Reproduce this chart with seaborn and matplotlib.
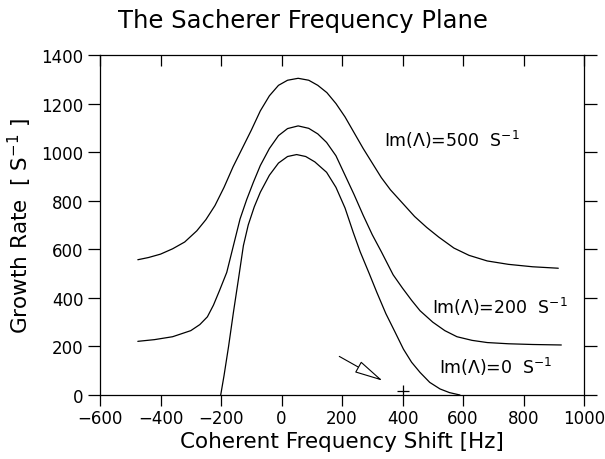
import numpy as np
import pandas as pd
import seaborn as sns
import matplotlib.pyplot as plt

# Curve readings (frequency shift [Hz], growth rate [1/s])
x_500 = [-475, -440, -400, -360, -320, -280, -250, -220, -190, -160, -130, -100, -70, -40, -10,
         20, 55, 90, 120, 150, 180, 210, 240, 270, 300, 330, 360, 400, 440, 480, 520, 570, 620,
         680, 750, 830, 915]
y_500 = [557, 566, 580, 602, 630, 676, 722, 780, 855, 940, 1015, 1090, 1170, 1232, 1275,
         1296, 1304, 1296, 1275, 1245, 1200, 1145, 1080, 1015, 955, 895, 845, 790, 735, 690, 650,
         605, 575, 552, 538, 528, 522]

x_200 = [-475, -420, -360, -300, -270, -245, -225, -205, -181, -160, -137, -115, -93, -70, -40, -10,
         20, 55, 90, 120, 149, 180, 210, 240, 270, 300, 330, 369, 400, 430, 458, 500, 540, 580,
         630, 680, 750, 830, 925]
y_200 = [221, 228, 240, 265, 290, 322, 370, 430, 505, 610, 725, 805, 876, 945, 1015, 1068,
         1097, 1108, 1098, 1075, 1040, 985, 905, 825, 740, 660, 590, 495, 440, 390, 347, 300, 265,
         240, 225, 216, 211, 208, 206]

x_0 = [-201, -190, -175, -159, -142, -126, -110, -90, -70, -40, -10, 20, 50, 80, 110, 149,
       180, 210, 237, 260, 290, 315, 345, 375, 403, 430, 458, 490, 524, 555, 590]
y_0 = [0, 80, 200, 340, 480, 615, 700, 775, 835, 905, 955, 982, 990, 982, 960, 917,
       855, 770, 670, 590, 500, 423, 335, 260, 189, 135, 93, 52, 25, 10, 0]

series = ['Im=500', 'Im=200', 'Im=0']
labels = ['Im(Λ)=500  S$^{-1}$', 'Im(Λ)=200  S$^{-1}$', 'Im(Λ)=0  S$^{-1}$']
label_pos = [(340, 1054), (498, 368), (522, 121)]

arrow_start = (191, 159)
arrow_end = (334, 59)
plus_point = (402, 18)

xticks = np.arange(-600, 1001, 200)
yticks = np.arange(0, 1401, 200)

df = pd.concat([
    pd.DataFrame({'x': x_500, 'y': y_500, 's': series[0]}),
    pd.DataFrame({'x': x_200, 'y': y_200, 's': series[1]}),
    pd.DataFrame({'x': x_0, 'y': y_0, 's': series[2]}),
])

sns.set_style("ticks")
plt.rcParams['font.family'] = ['DejaVu Sans']
plt.rcParams['text.color'] = 'black'
plt.rcParams['axes.labelcolor'] = 'black'
plt.rcParams['xtick.color'] = 'black'
plt.rcParams['ytick.color'] = 'black'

fig = plt.figure(figsize=(6.05, 4.6), dpi=100)
ax = fig.add_axes([0.1653, 0.1391, 0.8, 0.7392])

for s in series:
    sns.lineplot(data=df[df.s == s], x='x', y='y', sort=False, color='black',
                 linewidth=0.9, ax=ax, estimator=None)

for text, (tx, ty) in zip(labels, label_pos):
    ax.text(tx, ty, text, fontsize=12.5, va='center', ha='left')

ax.annotate('', xy=arrow_end, xytext=arrow_start,
            arrowprops=dict(arrowstyle='-|>,head_length=1.8,head_width=0.4',
                            mutation_scale=10, fc='white', ec='black', lw=0.8,
                            shrinkA=0, shrinkB=0))
ax.plot(*plus_point, marker='+', ms=8, mew=0.9, color='black')

ax.set_xlim(-600, 1000)
ax.set_ylim(0, 1400)
ax.set_xticks(xticks)
ax.set_yticks(yticks)
ax.set_xticklabels(['−600', '−400', '−200', '0', '200', '400', '600', '800', '1000'])

for sp in ax.spines.values():
    sp.set_visible(True)
    sp.set_linewidth(0.9)
    sp.set_color('black')

# top ticks point inward
top = ax.twiny()
top.set_xlim(ax.get_xlim())
top.set_xticks(xticks)
top.xaxis.set_ticks_position('top')
top.tick_params(axis='x', direction='in', length=8, width=0.9, color='black',
                labeltop=False, labelbottom=False)
for sp in top.spines.values():
    sp.set_visible(False)

ax.xaxis.set_ticks_position('bottom')
ax.tick_params(axis='x', direction='out', length=8, width=0.9, labelsize=12, pad=2)
ax.tick_params(axis='y', direction='out', length=9, width=0.9, labelsize=12, right=True, pad=3)

ax.set_xlabel('Coherent Frequency Shift [Hz]', fontsize=15.5, labelpad=3)
ax.set_ylabel('Growth Rate  [ S$^{-1}$ ]', fontsize=15.5, labelpad=5)
fig.text(0.5, 0.955, 'The Sacherer Frequency Plane', fontsize=17.5, ha='center', va='center')

plt.savefig('out.png', dpi=100)
